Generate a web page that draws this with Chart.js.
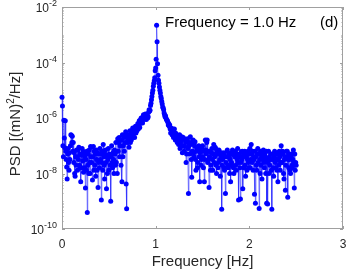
<!DOCTYPE html>
<html>
<head>
<meta charset="utf-8">
<script src="https://cdn.jsdelivr.net/npm/chart.js@4.4.1/dist/chart.umd.min.js"></script>
<style>
  html, body { margin: 0; padding: 0; background: #fff; }
  #wrap { width: 346px; height: 273px; }
</style>
</head>
<body>
<div id="wrap"><canvas id="psdChart" width="346" height="273"></canvas></div>
<script>
// frequency grid (Hz)
const freqStart = 0;
const freqStep = 0.005;

// PSD [(mN)^2/Hz], one per frequency bin (10 bins = 0.05 Hz per row)
const psdValues = [
  5.6e-6, 2.7e-6, 1.0e-7, 4.0e-8, 8.3e-7, 1.9e-7, 8.5e-8, 7.9e-7, 6.3e-8, 3.2e-8,   // 0.00
  1.7e-8, 6.3e-9, 5.0e-8, 7.9e-8, 2.5e-8, 1.3e-8, 5.6e-8, 3.2e-8, 1.0e-7, 2.5e-7,   // 0.05
  2.4e-7, 1.3e-7, 2.2e-7, 6.3e-8, 1.3e-7, 2.5e-8, 5.6e-8, 1.0e-8, 7.9e-9, 4.0e-8,   // 0.10
  2.0e-8, 7.1e-8, 4.0e-8, 1.3e-8, 7.1e-8, 3.2e-8, 8.9e-8, 2.0e-8, 5.0e-8, 1.6e-8,   // 0.15
  5.0e-9, 4.5e-8, 1.6e-8, 7.9e-8, 2.8e-8, 6.3e-8, 1.1e-8, 5.0e-8, 1.6e-8, 4.0e-8,   // 0.20
  3.0e-9, 3.2e-8, 1.3e-8, 6.3e-8, 3.9e-10, 2.0e-8, 5.0e-8, 1.0e-8, 7.1e-8, 2.5e-8,  // 0.25
  1.0e-8, 9.3e-8, 4.0e-8, 2.5e-8, 8.9e-8, 5.8e-9, 4.0e-8, 9.3e-8, 1.3e-8, 6.3e-8,   // 0.30
  2.0e-8, 5.0e-8, 7.9e-9, 7.1e-8, 3.2e-8, 1.3e-8, 5.6e-8, 3.1e-9, 2.5e-8, 5.0e-8,   // 0.35
  1.6e-8, 7.9e-8, 3.2e-8, 5.0e-8, 1.1e-9, 2.5e-8, 6.3e-8, 1.3e-8, 1.1e-7, 4.0e-8,   // 0.40
  2.0e-8, 6.3e-9, 5.0e-8, 7.1e-8, 2.5e-8, 2.8e-9, 4.0e-8, 1.0e-8, 3.2e-8, 7.9e-8,   // 0.45
  1.3e-8, 5.0e-8, 4.0e-8, 2.0e-8, 1.0e-9, 4.0e-8, 1.0e-7, 2.5e-8, 1.6e-8, 5.6e-8,   // 0.50
  3.2e-8, 1.0e-8, 7.1e-8, 5.0e-8, 2.0e-8, 1.3e-7, 2.5e-8, 6.3e-8, 1.0e-8, 1.8e-7,   // 0.55
  6.3e-8, 1.3e-7, 2.0e-7, 4.0e-8, 1.0e-7, 1.6e-7, 2.0e-8, 1.6e-7, 5.0e-9, 2.5e-7,   // 0.60
  4.0e-8, 1.0e-7, 2.0e-7, 6.3e-8, 2.5e-7, 1.3e-7, 3.2e-7, 4.2e-9, 5.4e-10, 2.0e-7,  // 0.65
  1.3e-7, 2.5e-7, 1.6e-7, 8.9e-8, 2.0e-7, 3.5e-7, 1.3e-7, 2.5e-7, 1.6e-7, 3.5e-7,   // 0.70
  2.0e-7, 4.4e-7, 2.5e-7, 3.2e-7, 4.4e-7, 2.0e-7, 3.2e-7, 5.0e-7, 2.9e-7, 4.5e-7,   // 0.75
  3.5e-7, 5.0e-7, 6.3e-7, 4.0e-7, 5.6e-7, 7.9e-7, 4.5e-7, 6.3e-7, 8.9e-7, 1.0e-6,   // 0.80
  7.9e-7, 1.0e-6, 6.6e-7, 1.1e-6, 1.3e-6, 8.9e-7, 1.2e-6, 1.0e-6, 1.4e-6, 1.1e-6,   // 0.85
  8.9e-7, 1.1e-6, 1.4e-6, 1.0e-6, 1.1e-6, 1.6e-6, 2.0e-6, 1.8e-6, 1.9e-6, 2.8e-6,   // 0.90
  3.4e-6, 4.5e-6, 5.9e-6, 7.9e-6, 1.0e-5, 1.4e-5, 1.8e-5, 2.2e-5, 2.8e-5, 5.0e-5,   // 0.95
  6.3e-5, 1.3e-4, 2.2e-3, 5.6e-4, 9.0e-5, 3.5e-5, 2.3e-5, 1.8e-5, 1.3e-5, 1.0e-5,   // 1.00
  7.9e-6, 5.9e-6, 5.0e-6, 3.9e-6, 3.2e-6, 2.5e-6, 2.3e-6, 2.0e-6, 1.5e-6, 1.3e-6,   // 1.05
  1.1e-6, 1.2e-6, 1.0e-6, 8.9e-7, 8.5e-7, 7.9e-7, 7.1e-7, 5.6e-7, 6.3e-7, 5.0e-7,   // 1.10
  5.6e-7, 4.0e-7, 2.9e-7, 4.4e-7, 3.5e-7, 2.5e-7, 3.2e-7, 4.0e-7, 2.0e-7, 2.5e-7,   // 1.15
  4.0e-7, 2.2e-7, 1.6e-7, 2.8e-7, 2.5e-7, 1.6e-7, 1.3e-7, 2.2e-7, 2.0e-7, 1.1e-7,   // 1.20
  1.4e-7, 2.5e-7, 7.9e-8, 1.3e-7, 1.6e-7, 1.0e-7, 2.1e-7, 5.6e-8, 1.0e-7, 2.0e-7,   // 1.25
  1.8e-7, 6.3e-8, 9.3e-8, 1.6e-7, 1.3e-7, 2.5e-8, 5.0e-8, 1.4e-7, 1.8e-7, 7.9e-8,   // 1.30
  1.9e-9, 1.0e-7, 1.3e-7, 5.0e-8, 2.1e-7, 1.1e-7, 3.2e-8, 7.4e-9, 6.3e-8, 1.3e-7,   // 1.35
  1.6e-7, 5.6e-8, 4.0e-8, 1.0e-7, 1.4e-7, 3.2e-8, 1.3e-8, 6.3e-8, 7.9e-8, 1.6e-8,   // 1.40
  2.5e-8, 7.9e-8, 1.0e-7, 4.0e-8, 5.0e-9, 5.6e-8, 6.3e-8, 2.0e-8, 3.2e-8, 8.9e-8,   // 1.45
  1.0e-7, 4.0e-8, 1.6e-8, 6.3e-8, 5.0e-9, 3.2e-8, 1.6e-7, 7.1e-8, 5.0e-8, 1.3e-7,   // 1.50
  1.6e-7, 2.5e-8, 3.2e-8, 6.3e-8, 3.1e-9, 4.0e-8, 6.3e-8, 1.3e-8, 2.0e-8, 5.6e-8,   // 1.55
  7.9e-8, 3.2e-8, 1.3e-8, 5.0e-8, 1.1e-7, 2.5e-8, 4.0e-8, 8.9e-8, 7.9e-8, 2.0e-8,   // 1.60
  1.0e-8, 6.3e-8, 5.0e-8, 1.6e-8, 2.5e-8, 7.1e-8, 6.3e-8, 3.2e-8, 7.9e-9, 4.5e-8,   // 1.65
  4.0e-8, 5.1e-10, 2.0e-8, 3.2e-8, 5.6e-8, 5.0e-8, 1.6e-8, 1.3e-8, 4.0e-8, 1.9e-9,  // 1.70
  2.5e-8, 4.0e-8, 6.3e-8, 7.1e-8, 2.0e-8, 1.6e-8, 5.0e-8, 4.0e-8, 1.0e-8, 3.2e-8,   // 1.75
  5.0e-9, 5.6e-8, 2.5e-8, 2.0e-8, 7.1e-8, 5.0e-8, 1.6e-8, 1.0e-8, 4.5e-8, 4.0e-8,   // 1.80
  6.3e-8, 2.0e-8, 1.3e-8, 5.0e-8, 3.2e-8, 7.9e-8, 2.5e-8, 1.1e-9, 4.0e-8, 5.0e-8,   // 1.85
  1.6e-8, 1.2e-9, 2.5e-8, 6.2e-8, 3.2e-8, 6.3e-8, 2.8e-9, 4.0e-8, 1.6e-8, 5.0e-8,   // 1.90
  6.3e-8, 2.0e-8, 7.9e-9, 5.0e-8, 4.0e-8, 1.3e-8, 3.2e-8, 6.3e-8, 2.5e-8, 1.6e-8,   // 1.95
  5.0e-8, 7.9e-8, 1.6e-8, 3.2e-8, 1.1e-7, 5.0e-8, 2.5e-8, 6.3e-8, 1.3e-8, 4.0e-8,   // 2.00
  3.2e-8, 1.8e-9, 6.3e-8, 8.5e-10, 4.0e-8, 2.0e-8, 1.3e-8, 5.0e-8, 7.9e-8, 2.5e-8,  // 2.05
  5.0e-8, 5.5e-10, 3.2e-8, 1.0e-8, 6.3e-8, 2.0e-8, 4.0e-8, 6.3e-9, 5.0e-8, 3.2e-8,  // 2.10
  7.1e-8, 2.5e-8, 1.6e-8, 5.0e-8, 4.0e-8, 1.0e-8, 6.3e-8, 8.5e-10, 3.2e-8, 7.9e-10, // 2.15
  2.5e-8, 6.3e-8, 1.0e-8, 4.0e-8, 2.0e-8, 3.2e-8, 5.0e-8, 1.3e-8, 5.1e-10, 3.2e-8,  // 2.20
  5.0e-8, 1.6e-8, 7.9e-9, 4.0e-8, 6.3e-8, 2.5e-8, 1.6e-8, 5.0e-8, 3.2e-8, 1.3e-8,   // 2.25
  5.0e-8, 5.0e-9, 3.2e-8, 2.0e-8, 6.3e-8, 4.0e-8, 1.3e-8, 2.5e-8, 1.0e-7, 5.0e-8,   // 2.30
  2.5e-8, 6.3e-8, 5.0e-8, 1.0e-8, 6.3e-9, 3.2e-8, 4.0e-8, 2.5e-9, 2.0e-8, 6.3e-8,   // 2.35
  4.0e-8, 6.3e-8, 1.4e-9, 3.2e-8, 1.6e-8, 5.0e-8, 3.2e-8, 1.3e-8, 1.0e-8, 4.0e-8,   // 2.40
  5.0e-8, 2.0e-8, 1.6e-8, 3.2e-8, 7.1e-8, 2.5e-8, 3.0e-9, 5.0e-8, 1.3e-8, 2.5e-8,   // 2.45
  2.0e-8                                                                            // 2.50
];

// axis ticks
const xTicks = [0, 1, 2, 3];
const yTickExponents = [-2, -4, -6, -8, -10];

const fontFamily = "'Liberation Sans', Arial, Helvetica, sans-serif";
const textColor = '#262626';
const axisColor = '#a0a0a0';

const points = psdValues.map((v, i) => ({ x: freqStart + i * freqStep, y: v }));

// box, inward ticks, y tick labels (10^n), y title and the annotation
const matlabAxes = {
  id: 'matlabAxes',
  beforeDatasetsDraw(chart) {
    const { ctx, chartArea: a, scales: { x, y } } = chart;
    ctx.save();
    ctx.strokeStyle = axisColor;
    ctx.lineWidth = 1;
    ctx.strokeRect(a.left + 0.5, a.top + 0.5, a.right - a.left - 1, a.bottom - a.top - 1);
    ctx.beginPath();
    xTicks.forEach(v => {
      const px = Math.round(x.getPixelForValue(v)) + 0.5;
      ctx.moveTo(px, a.bottom); ctx.lineTo(px, a.bottom - 3);
      ctx.moveTo(px, a.top); ctx.lineTo(px, a.top + 3);
    });
    for (let e = -10; e <= -2; e++) {
      for (let m = 1; m < 10; m++) {
        if (e === -2 && m > 1) break;
        const py = Math.round(y.getPixelForValue(m * Math.pow(10, e))) + 0.5;
        const len = (m === 1 && e % 2 === 0) ? 3 : 1.5;
        ctx.moveTo(a.left, py); ctx.lineTo(a.left + len, py);
        ctx.moveTo(a.right, py); ctx.lineTo(a.right - len, py);
      }
    }
    ctx.stroke();
    ctx.restore();
  },
  afterDraw(chart) {
    const { ctx, chartArea: a, scales: { y } } = chart;
    ctx.save();
    ctx.fillStyle = textColor;
    ctx.textBaseline = 'alphabetic';
    ctx.textAlign = 'right';
    yTickExponents.forEach(e => {
      const py = y.getPixelForValue(Math.pow(10, e));
      const right = a.left - 5;
      ctx.font = '9px ' + fontFamily;
      const expText = String(e);
      const expW = ctx.measureText(expText).width;
      ctx.fillText(expText, right, py - 1);
      ctx.font = '12px ' + fontFamily;
      ctx.fillText('10', right - expW, py + 5);
    });

    // y axis title with superscript
    ctx.translate(15, (a.top + a.bottom) / 2 + 6);
    ctx.rotate(-Math.PI / 2);
    ctx.textAlign = 'left';
    const part1 = 'PSD [(mN)', part2 = '2', part3 = '/Hz]';
    ctx.font = '15px ' + fontFamily;
    const w1 = ctx.measureText(part1).width, w3 = ctx.measureText(part3).width;
    ctx.font = '10px ' + fontFamily;
    const w2 = ctx.measureText(part2).width;
    let cx = -(w1 + w2 + w3) / 2;
    ctx.font = '15px ' + fontFamily;
    ctx.fillText(part1, cx, 5); cx += w1;
    ctx.font = '10px ' + fontFamily;
    ctx.fillText(part2, cx, -1); cx += w2;
    ctx.font = '15px ' + fontFamily;
    ctx.fillText(part3, cx, 5);
    ctx.restore();

    ctx.save();
    ctx.fillStyle = '#000';
    ctx.font = '15px ' + fontFamily;
    ctx.textBaseline = 'alphabetic';
    ctx.fillText('Frequency = 1.0 Hz', 165, 27);
    ctx.fillText('(d)', 320, 27);
    ctx.restore();
  }
};

new Chart(document.getElementById('psdChart'), {
  type: 'line',
  data: {
    datasets: [{
      data: points,
      borderColor: 'rgba(40, 40, 255, 0.6)',
      borderWidth: 1,
      pointRadius: 2.5,
      pointBackgroundColor: '#0000ff',
      pointBorderWidth: 0,
      pointHoverRadius: 2.5,
      tension: 0,
      clip: false
    }]
  },
  options: {
    responsive: false,
    animation: false,
    devicePixelRatio: 1,
    layout: { padding: { top: 7, right: 3, left: 0, bottom: 0 } },
    plugins: { legend: { display: false }, tooltip: { enabled: false } },
    scales: {
      x: {
        type: 'linear',
        min: 0,
        max: 3,
        grid: { display: false, drawTicks: false },
        border: { display: false },
        ticks: {
          stepSize: 1,
          padding: 8,
          color: textColor,
          font: { family: fontFamily, size: 12 },
          maxRotation: 0
        },
        title: {
          display: true,
          text: 'Frequency [Hz]',
          color: textColor,
          font: { family: fontFamily, size: 15 },
          padding: { top: 4, bottom: 2 }
        },
        afterFit(s) {
          s.height = 44;
          s.paddingLeft = 0;
          s.paddingRight = 0;
        }
      },
      y: {
        type: 'logarithmic',
        min: 1e-10,
        max: 1e-2,
        grid: { display: false, drawTicks: false },
        border: { display: false },
        ticks: { display: false },
        afterFit(s) { s.width = 62; }
      }
    }
  },
  plugins: [matlabAxes]
});
</script>
</body>
</html>
